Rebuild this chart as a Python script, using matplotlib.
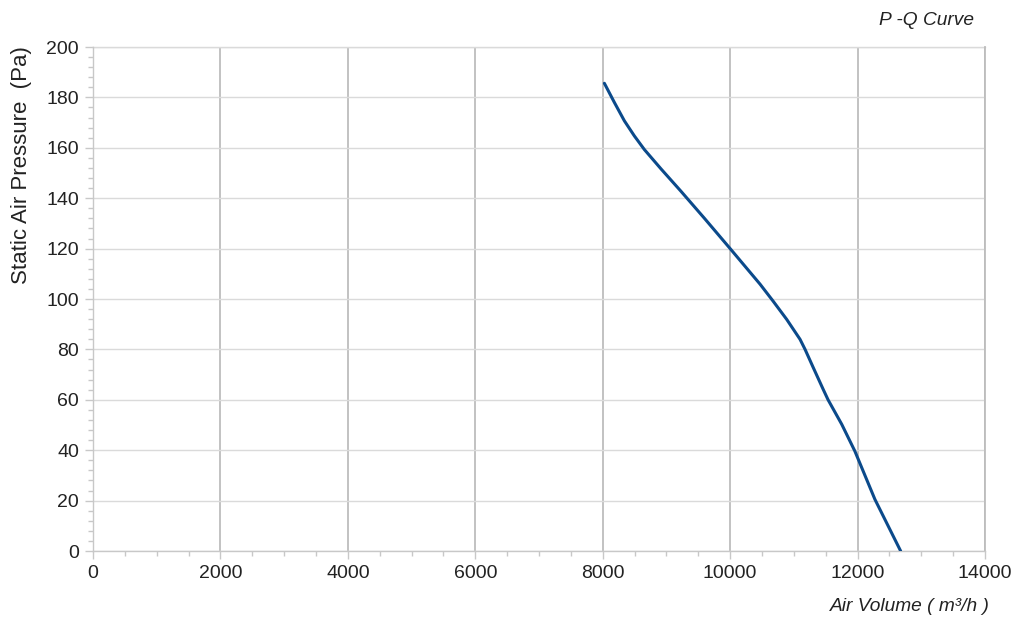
import matplotlib
matplotlib.use("Agg")
import matplotlib.pyplot as plt
from matplotlib.ticker import MultipleLocator

air_volume = [8026, 8183, 8340, 8497, 8654, 8916, 9230, 9597, 10000, 10469,
              10670, 10888, 11097, 11176, 11306, 11463, 11537, 11751, 11958,
              12272, 12676]
static_pressure = [185.6, 178, 170.7, 164.7, 159.3, 151.6, 142.7, 132, 120, 105.9,
                   99.3, 91.9, 84, 80, 72.7, 64, 60, 50.3, 39.6,
                   20.5, 0]

x_ticks = [0, 2000, 4000, 6000, 8000, 10000, 12000, 14000]
y_ticks = [0, 20, 40, 60, 80, 100, 120, 140, 160, 180, 200]

plt.rcParams['font.family'] = ['Liberation Sans', 'DejaVu Sans']

fig = plt.figure(figsize=(10.24, 6.3), dpi=100)
ax = fig.add_axes([93/1024, 79/630, 892/1024, 504/630])

ax.plot(air_volume, static_pressure, color='#0b4a8b', lw=2.2,
        solid_capstyle='round', solid_joinstyle='round', zorder=3)

ax.set_xlim(0, 14000)
ax.set_ylim(0, 200)
ax.set_xticks(x_ticks)
ax.set_yticks(y_ticks)
ax.xaxis.set_minor_locator(MultipleLocator(500))
ax.yaxis.set_minor_locator(MultipleLocator(4))

ax.grid(axis='x', which='major', color='#bdbdbd', lw=1.3)
ax.grid(axis='y', which='major', color='#dadada', lw=1.0)
ax.set_axisbelow(True)

ax.spines['top'].set_visible(False)
ax.spines['right'].set_color('#bdbdbd')
ax.spines['right'].set_linewidth(1.3)
ax.spines['left'].set_color('#c8c8c8')
ax.spines['bottom'].set_color('#c8c8c8')
ax.spines['left'].set_linewidth(1.0)
ax.spines['bottom'].set_linewidth(1.0)
ax.axhline(200, color='#dadada', lw=1.0, clip_on=False, zorder=1)

ax.tick_params(axis='both', which='major', length=6, width=1, color='#c8c8c8',
               labelsize=14, labelcolor='#222222', pad=4)
ax.tick_params(axis='both', which='minor', length=3.5, width=1, color='#c8c8c8')

fig.text(22/1024, 1 - 165/630, 'Static Air Pressure  (Pa)', fontsize=16,
         rotation=90, color='#222222', ha='center', va='center')
fig.text(0.967, 0.037, 'Air Volume ( m³/h )', fontsize=13.8, style='italic',
         color='#222222', ha='right', va='center')
fig.text(0.951, 0.968, 'P -Q Curve', fontsize=13.8, style='italic',
         color='#222222', ha='right', va='center')

fig.savefig('out.png', dpi=100)
